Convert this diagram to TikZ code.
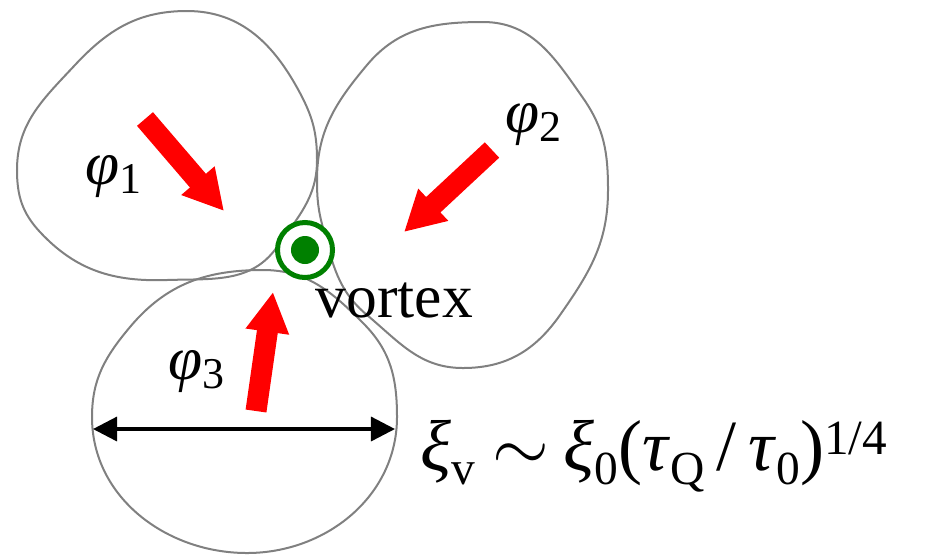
\documentclass[tikz,border=0pt]{standalone}
\usepackage{fontspec}
\setmainfont{Liberation Serif}
\usetikzlibrary{positioning, arrows.meta}
\definecolor{vgreen}{RGB}{0,128,0}
\newcommand{\lsub}[1]{\raisebox{-0.16em}{\fontsize{12.5}{14}\selectfont #1}}
\newcommand{\fsub}[1]{\raisebox{-4pt}{\fontsize{13.5}{15}\selectfont #1}}
\newcommand{\fsup}[1]{\raisebox{4.5pt}{\fontsize{14}{16}\selectfont #1}}

\begin{document}
\begin{tikzpicture}[
    x=0.01cm, y=-0.01cm,
    domainline/.style={draw=gray, line width=0.02cm},
    fieldarrow/.style={red, line width=0.21cm,
                  -{Triangle[width=0.41cm, length=0.40cm]}},
    sizearrow/.style={line width=0.033cm,
                 {Triangle[width=0.24cm, length=0.24cm]}-{Triangle[width=0.24cm, length=0.24cm]}},
    vring/.style={circle, draw=vgreen, line width=0.05cm, fill=white,
                 minimum size=0.55cm, inner sep=0pt},
    vcore/.style={circle, fill=vgreen, minimum size=0.28cm, inner sep=0pt},
    lbl/.style={anchor=base west, inner sep=0pt,
                font=\fontsize{17.5}{20}\selectfont}
]
  \path[use as bounding box] (0,0) rectangle (925,554);

  % domains
  \draw[domainline] (187,11) to[out=0,in=118] (300,93)
    to[out=-62,in=90] (317,160) to[out=-90,in=55] (277,247)
    to[out=-125,in=2] (167,280) to[out=182,in=-47] (40,232)
    to[out=133,in=-90] (17,170) to[out=90,in=-133] (75,65)
    to[out=47,in=180] cycle;
  \draw[domainline] (483,22) to[out=0,in=125] (583,98)
    to[out=-55,in=90] (608,190) to[out=-90,in=55] (560,315)
    to[out=-125,in=0] (463,368) to[out=180,in=-40] (367,315)
    to[out=140,in=-75] (323,228) to[out=105,in=-90] (317,180)
    to[out=90,in=-130] (367,65) to[out=50,in=180] cycle;
  \draw[domainline] (263,270) to[out=0,in=135] (363,323)
    to[out=-45,in=90] (397,417) to[out=-90,in=0] (247,553)
    to[out=180,in=-90] (92,417) to[out=90,in=-130] (130,327)
    to[out=50,in=180] cycle;

  \node[vring] (vortex) at (305,250) {};
  \node[vcore] (center) at (vortex) {};

  \coordinate (t1) at (145,119);  \coordinate (h1) at (224,211);
  \coordinate (t2) at (492,150);  \coordinate (h2) at (404,232);
  \coordinate (t3) at (256,411);  \coordinate (h3) at (273,292);
  \draw[fieldarrow] (t1) -- (h1);
  \draw[fieldarrow] (t2) -- (h2);
  \draw[fieldarrow] (t3) -- (h3);

  \coordinate (dl) at (93,429);  \coordinate (dr) at (395,429);
  \draw[sizearrow] (dl) -- (dr);

  \node[lbl] (phi1) at (85,184) {\textit{φ}\lsub{1}};
  \node[lbl] (phi2) at (505,132) {\textit{φ}\lsub{2}};
  \node[lbl] (phi3) at (168,379) {\textit{φ}\lsub{3}};
  \node[lbl] (vlabel) at (315,317) {vortex};
  \node[lbl, font=\fontsize{20.5}{24}\selectfont] (scale) at (420,470)
    {\textit{ξ}\fsub{v}\hspace{5pt}$\sim$\hspace{4pt}\textit{ξ}\fsub{0}(\textit{τ}\fsub{Q}\,/\,\textit{τ}\fsub{0})\fsup{1/4}};
\end{tikzpicture}
\end{document}
